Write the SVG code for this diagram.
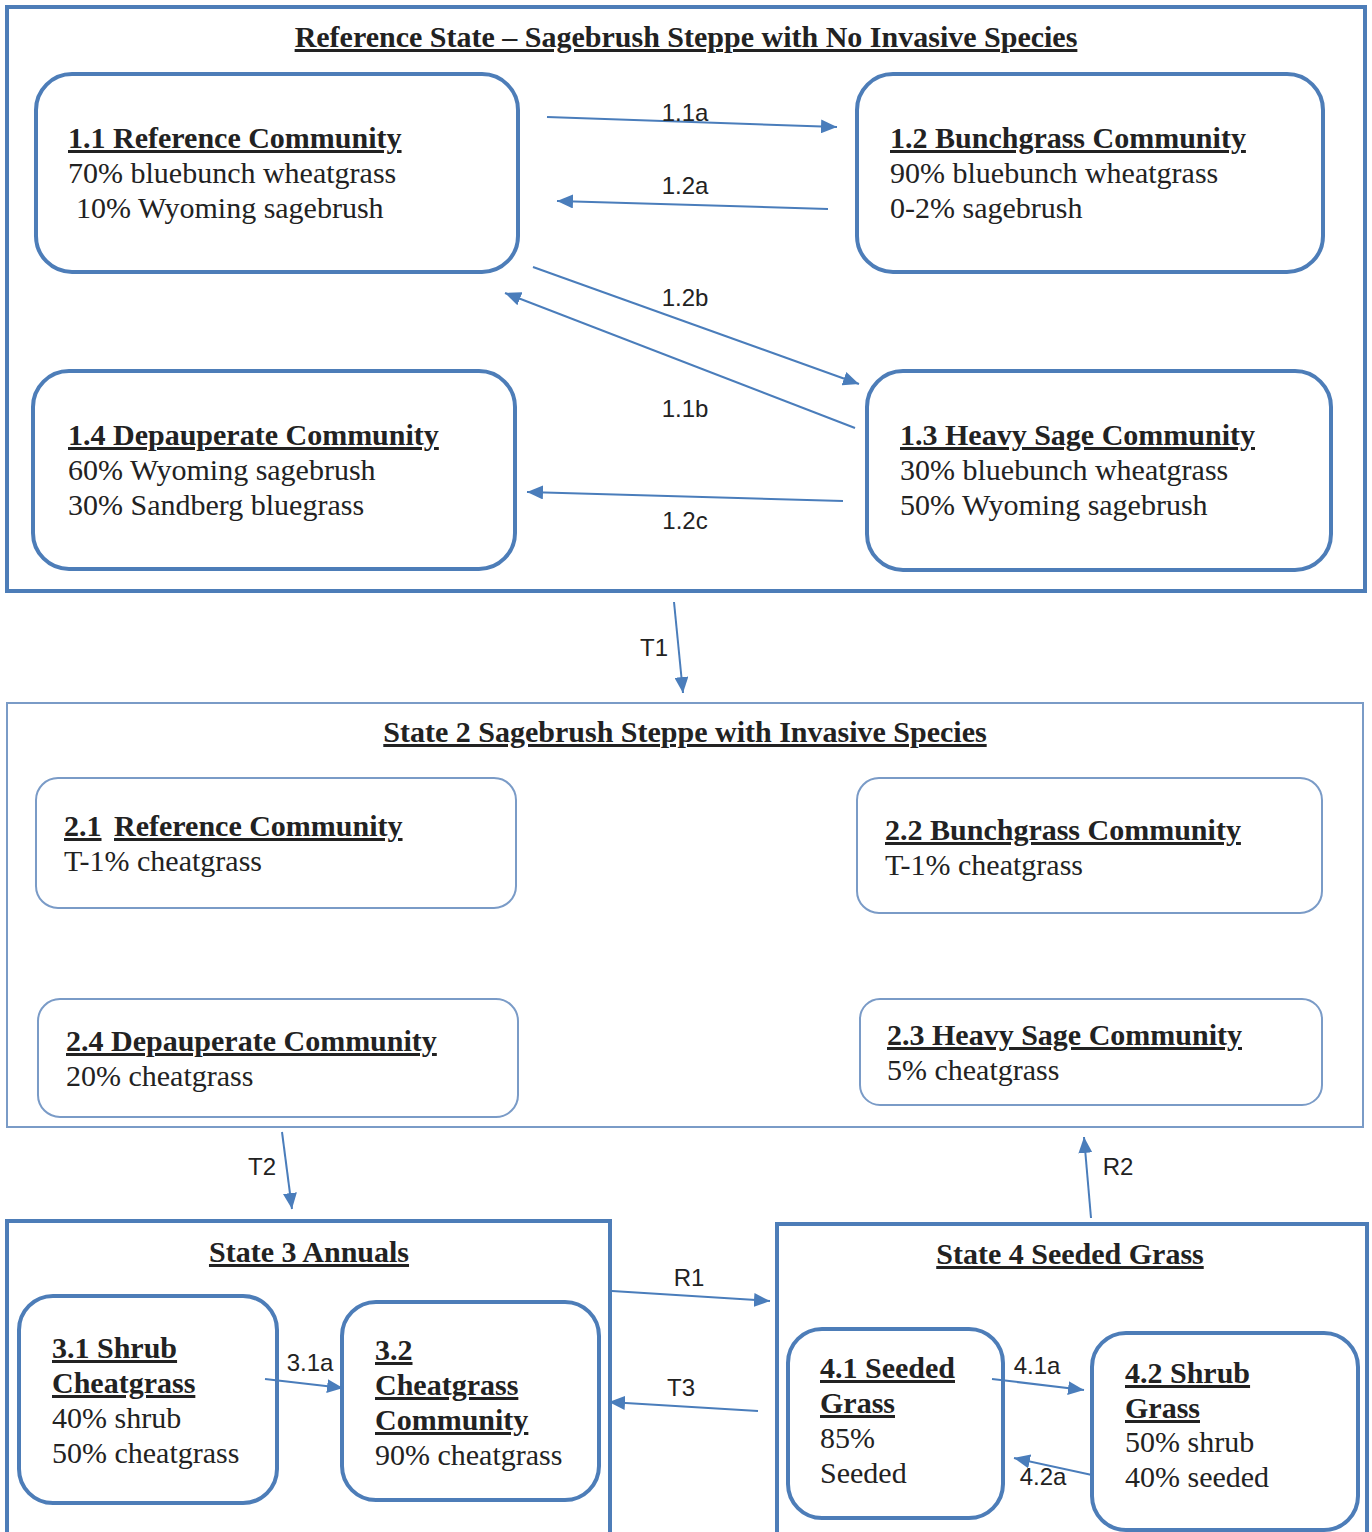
<svg xmlns="http://www.w3.org/2000/svg" width="1372" height="1532" viewBox="0 0 1372 1532">
<defs>
<marker id="ah" markerUnits="userSpaceOnUse" markerWidth="18" markerHeight="14" refX="16" refY="7" orient="auto">
<path d="M0,0 L16,7 L0,14 Z" fill="#4a7dbb"/>
</marker>
<style>
.state{fill:none;stroke:#4d7db8;stroke-width:4}
.state2{fill:none;stroke:#7a9bc7;stroke-width:2}
.node{fill:#fff;stroke:#4d7db8;stroke-width:4}
.node2{fill:#fff;stroke:#7a9bc7;stroke-width:2}
.t{font-family:"Liberation Serif","Times New Roman",serif;font-size:30px;fill:#222}
.b{font-weight:bold;text-decoration:underline}
.title{font-family:"Liberation Serif","Times New Roman",serif;font-size:30px;font-weight:bold;text-decoration:underline;fill:#222;text-anchor:middle}
.lab{font-family:"Liberation Sans",Arial,sans-serif;font-size:24px;fill:#222;text-anchor:middle}
.c{fill:none;stroke:#4a7dbb;stroke-width:2;marker-end:url(#ah)}
</style>
</defs>
<rect width="1372" height="1532" fill="#fff"/>

<g id="state1">
<rect class="state" x="7" y="7" width="1358" height="584"/>
<text class="title" x="686" y="47">Reference State – Sagebrush Steppe with No Invasive Species</text>
</g>
<g id="n11">
<rect class="node" x="36" y="74" width="482" height="198" rx="36"/>
<text class="t b" x="68" y="148">1.1 Reference Community</text>
<text class="t" x="68" y="183">70% bluebunch wheatgrass</text>
<text class="t" x="76" y="218">10% Wyoming sagebrush</text>
</g>
<g id="n12">
<rect class="node" x="857" y="74" width="466" height="198" rx="36"/>
<text class="t b" x="890" y="148">1.2 Bunchgrass Community</text>
<text class="t" x="890" y="183">90% bluebunch wheatgrass</text>
<text class="t" x="890" y="218">0-2% sagebrush</text>
</g>
<g id="n13">
<rect class="node" x="867" y="371" width="464" height="199" rx="36"/>
<text class="t b" x="900" y="445">1.3 Heavy Sage Community</text>
<text class="t" x="900" y="480">30% bluebunch wheatgrass</text>
<text class="t" x="900" y="515">50% Wyoming sagebrush</text>
</g>
<g id="n14">
<rect class="node" x="33" y="371" width="482" height="198" rx="36"/>
<text class="t b" x="68" y="445">1.4 Depauperate Community</text>
<text class="t" x="68" y="480">60% Wyoming sagebrush</text>
<text class="t" x="68" y="515">30% Sandberg bluegrass</text>
</g>

<g id="state2">
<rect class="state2" x="7" y="703" width="1356" height="424"/>
<text class="title" x="685" y="742">State 2 Sagebrush Steppe with Invasive Species</text>
</g>
<g id="n21">
<rect class="node2" x="36" y="778" width="480" height="130" rx="22"/>
<text class="t" x="64" y="836"><tspan class="b">2.1</tspan> <tspan class="b" x="114">Reference Community</tspan></text>
<text class="t" x="64" y="871">T-1% cheatgrass</text>
</g>
<g id="n22">
<rect class="node2" x="857" y="778" width="465" height="135" rx="22"/>
<text class="t b" x="885" y="840">2.2 Bunchgrass Community</text>
<text class="t" x="885" y="875">T-1% cheatgrass</text>
</g>
<g id="n23">
<rect class="node2" x="860" y="999" width="462" height="106" rx="20"/>
<text class="t b" x="887" y="1045">2.3 Heavy Sage Community</text>
<text class="t" x="887" y="1080">5% cheatgrass</text>
</g>
<g id="n24">
<rect class="node2" x="38" y="999" width="480" height="118" rx="22"/>
<text class="t b" x="66" y="1051">2.4 Depauperate Community</text>
<text class="t" x="66" y="1086">20% cheatgrass</text>
</g>

<g id="state3">
<rect class="state" x="7" y="1221" width="603" height="320"/>
<text class="title" x="309" y="1262">State 3 Annuals</text>
</g>
<g id="n31">
<rect class="node" x="19" y="1296" width="258" height="207" rx="34"/>
<text class="t b" x="52" y="1358">3.1 Shrub</text>
<text class="t b" x="52" y="1393">Cheatgrass</text>
<text class="t" x="52" y="1428">40% shrub</text>
<text class="t" x="52" y="1463">50% cheatgrass</text>
</g>
<g id="n32">
<rect class="node" x="342" y="1302" width="257" height="198" rx="34"/>
<text class="t b" x="375" y="1360">3.2</text>
<text class="t b" x="375" y="1395">Cheatgrass</text>
<text class="t b" x="375" y="1430">Community</text>
<text class="t" x="375" y="1465">90% cheatgrass</text>
</g>

<g id="state4">
<rect class="state" x="777" y="1224" width="590" height="317"/>
<text class="title" x="1070" y="1264">State 4 Seeded Grass</text>
</g>
<g id="n41">
<rect class="node" x="788" y="1329" width="215" height="189" rx="34"/>
<text class="t b" x="820" y="1378">4.1 Seeded</text>
<text class="t b" x="820" y="1413">Grass</text>
<text class="t" x="820" y="1448">85%</text>
<text class="t" x="820" y="1483">Seeded</text>
</g>
<g id="n42">
<rect class="node" x="1092" y="1333" width="266" height="197" rx="34"/>
<text class="t b" x="1125" y="1383">4.2 Shrub</text>
<text class="t b" x="1125" y="1418">Grass</text>
<text class="t" x="1125" y="1452">50% shrub</text>
<text class="t" x="1125" y="1487">40% seeded</text>
</g>

<g id="connectors">
<line class="c" x1="547" y1="117" x2="837" y2="127"/>
<line class="c" x1="828" y1="209" x2="557" y2="201"/>
<line class="c" x1="533" y1="267" x2="859" y2="384"/>
<line class="c" x1="855" y1="428" x2="505" y2="293"/>
<line class="c" x1="843" y1="501" x2="527" y2="492"/>
<line class="c" x1="674" y1="602" x2="683" y2="693"/>
<line class="c" x1="282" y1="1132" x2="292" y2="1209"/>
<line class="c" x1="1091" y1="1218" x2="1084" y2="1137"/>
<line class="c" x1="612" y1="1291" x2="770" y2="1301"/>
<line class="c" x1="758" y1="1411" x2="609" y2="1402"/>
<line class="c" x1="265" y1="1379" x2="343" y2="1388"/>
<line class="c" x1="992" y1="1379" x2="1084" y2="1390"/>
<line class="c" x1="1092" y1="1475" x2="1014" y2="1458"/>
<text class="lab" x="685" y="121">1.1a</text>
<text class="lab" x="685" y="194">1.2a</text>
<text class="lab" x="685" y="306">1.2b</text>
<text class="lab" x="685" y="417">1.1b</text>
<text class="lab" x="685" y="529">1.2c</text>
<text class="lab" x="654" y="656">T1</text>
<text class="lab" x="262" y="1175">T2</text>
<text class="lab" x="1118" y="1175">R2</text>
<text class="lab" x="689" y="1286">R1</text>
<text class="lab" x="681" y="1396">T3</text>
<text class="lab" x="310" y="1371">3.1a</text>
<text class="lab" x="1037" y="1374">4.1a</text>
<text class="lab" x="1043" y="1485">4.2a</text>
</g>
</svg>
